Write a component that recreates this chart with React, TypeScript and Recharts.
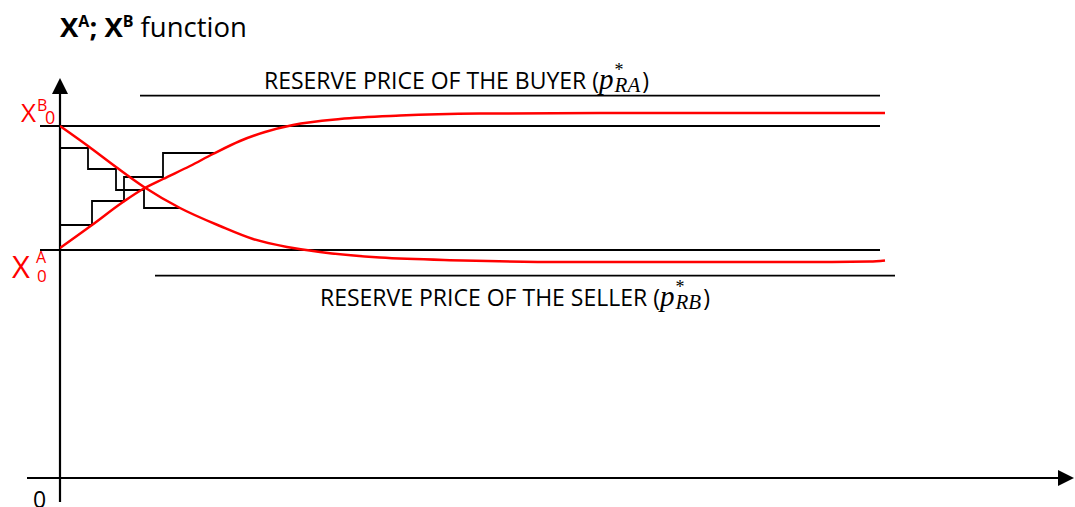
import { ComposedChart, Line, XAxis, YAxis, ReferenceLine } from 'recharts';

// Curva X^A (sale de X^A_0 y sube hacia el precio de reserva del comprador)
const xaCurve = [
  { x: 0, y: 57.5 },
  { x: 3.2, y: 63.25 },
  { x: 6.3, y: 69 },
  { x: 8.3, y: 72.25 },
  { x: 10.3, y: 74.75 },
  { x: 13, y: 78 },
  { x: 15.3, y: 81 },
  { x: 18, y: 84.25 },
  { x: 20.5, y: 86.5 },
  { x: 23.3, y: 88.25 },
  { x: 28, y: 89.75 },
  { x: 34, y: 90.6 },
  { x: 42, y: 91.1 },
  { x: 54, y: 91.25 },
  { x: 82.5, y: 91.25 },
];

// Curva X^B (sale de X^B_0 y baja hacia el precio de reserva del vendedor)
const xbCurve = [
  { x: 0, y: 88 },
  { x: 2.8, y: 83 },
  { x: 5.6, y: 77.75 },
  { x: 8.4, y: 72.75 },
  { x: 12, y: 67.5 },
  { x: 16, y: 63 },
  { x: 19.3, y: 59.75 },
  { x: 22.7, y: 57.75 },
  { x: 26, y: 56.5 },
  { x: 32, y: 55.1 },
  { x: 40.3, y: 54.4 },
  { x: 50.3, y: 54 },
  { x: 76, y: 54 },
  { x: 81, y: 54.1 },
  { x: 82.5, y: 54.4 },
];

// Escalones (ofertas sucesivas)
const xbSteps = [
  { x: 0.1, y: 82.5 },
  { x: 2.8, y: 77.25 },
  { x: 5.6, y: 72 },
  { x: 8.4, y: 67.5 },
  { x: 12, y: 67.5 },
];
const xaSteps = [
  { x: 0.1, y: 63.25 },
  { x: 3.2, y: 69.25 },
  { x: 6.4, y: 75.25 },
  { x: 10.3, y: 81.25 },
  { x: 15.6, y: 81.25 },
];

// Líneas horizontales: reserva comprador, X^B_0, X^A_0, reserva vendedor
const guideLines = [
  { y: 95.6, from: 8, to: 82 },
  { y: 88, from: -2, to: 82 },
  { y: 57, from: -2, to: 82 },
  { y: 50.6, from: 9.5, to: 83.5 },
];

const RED = '#ff0000';

function Arrow(props: any) {
  const { x1, y1, x2, y2 } = props;
  const a = Math.atan2(y2 - y1, x2 - x1);
  const len = 16;
  const hw = 8;
  const bx = x2 - len * Math.cos(a);
  const by = y2 - len * Math.sin(a);
  const px = -Math.sin(a) * hw;
  const py = Math.cos(a) * hw;
  return (
    <g>
      <line x1={x1} y1={y1} x2={bx} y2={by} stroke="#000" strokeWidth={2.2} />
      <polygon points={`${x2},${y2} ${bx + px},${by + py} ${bx - px},${by - py}`} fill="#000" />
    </g>
  );
}

function ReserveLabel({ x, y, who, sub }: { x: number; y: number; who: string; sub: string }) {
  return (
    <text x={x} y={y} fontFamily="Open Sans" fontSize={23} fill="#000">
      {`RESERVE PRICE OF THE ${who} (`}
      <tspan fontFamily="Liberation Serif" fontStyle="italic" fontSize={29}>p</tspan>
      <tspan fontFamily="Liberation Serif" fontSize={18} dx={1} dy={-13}>*</tspan>
      <tspan fontFamily="Liberation Serif" fontStyle="italic" fontSize={21} dx={-9} dy={16}>{sub}</tspan>
      <tspan dx={2} dy={-3}>)</tspan>
    </text>
  );
}

export default function App() {
  return (
    <div style={{ position: 'absolute', left: 0, top: 0, width: 1075, height: 507, overflow: 'hidden', background: '#fff' }}>
      <ComposedChart width={1075} height={507} margin={{ top: 78, right: 15, bottom: 29, left: 60 }}>
        <XAxis type="number" dataKey="x" domain={[0, 100]} allowDataOverflow hide />
        <YAxis type="number" domain={[0, 100]} allowDataOverflow hide />
        {guideLines.map((g, i) => (
          <ReferenceLine
            key={`g-${i}`}
            segment={[{ x: g.from, y: g.y }, { x: g.to, y: g.y }]}
            stroke="#000"
            strokeWidth={1.8}
            ifOverflow="visible"
          />
        ))}
        <ReferenceLine segment={[{ x: 0, y: -6 }, { x: 0, y: 100 }]} ifOverflow="visible" shape={Arrow} />
        <ReferenceLine segment={[{ x: -3.3, y: 0 }, { x: 101.4, y: 0 }]} ifOverflow="visible" shape={Arrow} />
        <Line data={xbSteps} dataKey="y" type="stepAfter" stroke="#000" strokeWidth={1.8} dot={false} activeDot={false} isAnimationActive={false} />
        <Line data={xaSteps} dataKey="y" type="stepAfter" stroke="#000" strokeWidth={1.8} dot={false} activeDot={false} isAnimationActive={false} />
        <Line data={xaCurve} dataKey="y" type="monotone" stroke={RED} strokeWidth={2.5} dot={false} activeDot={false} isAnimationActive={false} />
        <Line data={xbCurve} dataKey="y" type="monotone" stroke={RED} strokeWidth={2.5} dot={false} activeDot={false} isAnimationActive={false} />
      </ComposedChart>
      <svg width={1075} height={507} style={{ position: 'absolute', left: 0, top: 0, pointerEvents: 'none' }}>
        <text x={60} y={37} fontFamily="Open Sans" fontSize={27.5} fill="#000">
          <tspan fontWeight="bold">X</tspan>
          <tspan fontWeight="bold" fontSize={16} dy={-10}>A</tspan>
          <tspan fontWeight="bold" dy={10}>; X</tspan>
          <tspan fontWeight="bold" fontSize={16} dy={-10}>B</tspan>
          <tspan dy={10}> function</tspan>
        </text>
        <ReserveLabel x={264} y={89} who="BUYER" sub="RA" />
        <ReserveLabel x={320} y={306} who="SELLER" sub="RB" />
        <g fill={RED} fontFamily="Open Sans">
          <text x={21} y={122} fontSize={26}>X</text>
          <text x={37} y={111} fontSize={16}>B</text>
          <text x={45} y={124} fontSize={18}>0</text>
          <text x={12} y={278} fontSize={31}>X</text>
          <text x={36} y={263} fontSize={16}>A</text>
          <text x={37} y={282} fontSize={17}>0</text>
        </g>
        <text x={33} y={508} fontFamily="Open Sans" fontSize={23} fill="#000">0</text>
      </svg>
    </div>
  );
}
